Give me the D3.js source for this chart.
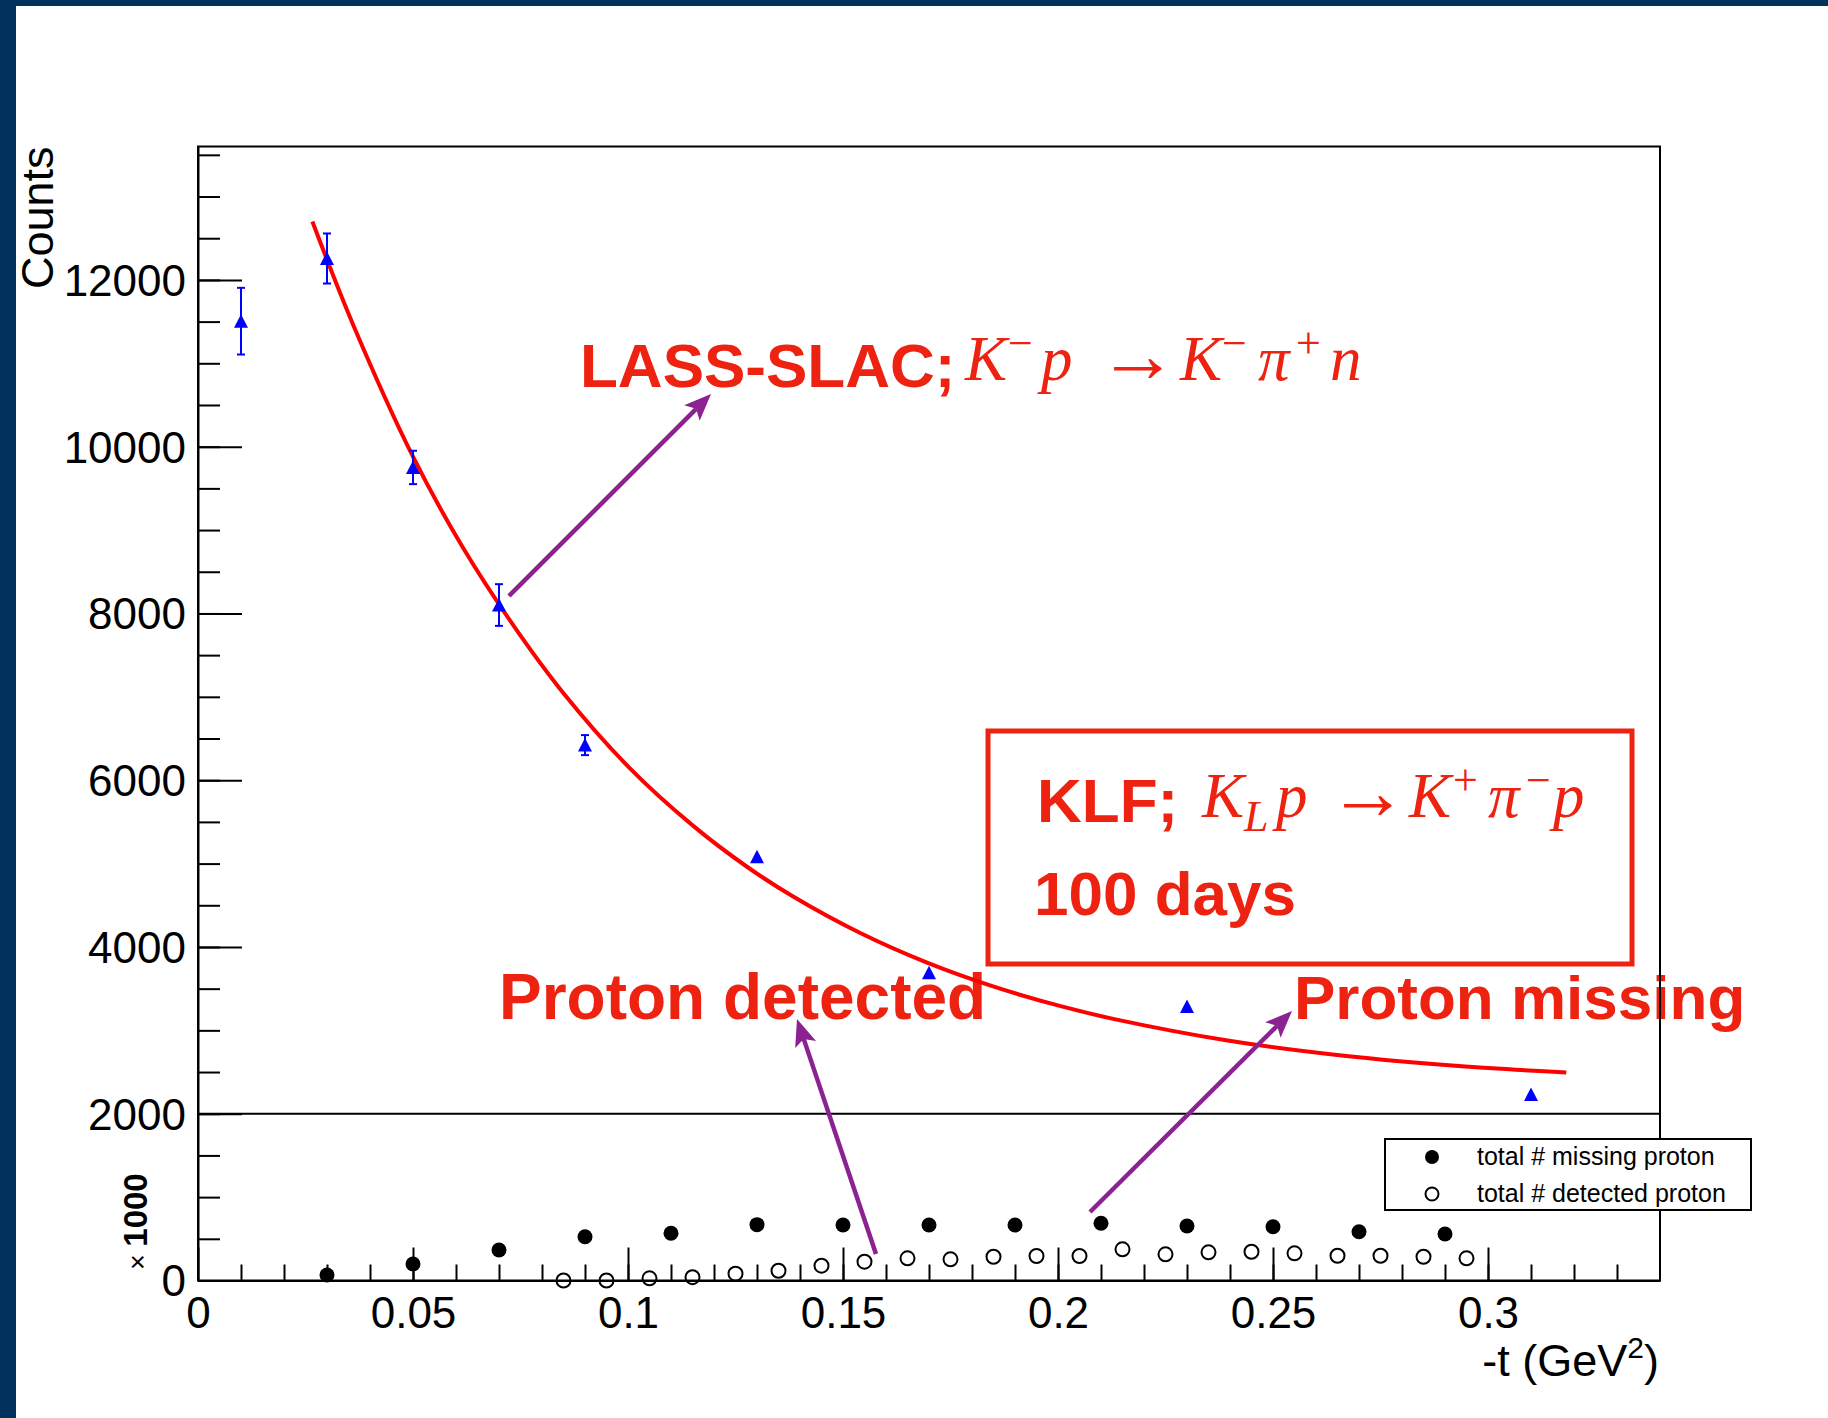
<!DOCTYPE html>
<meta charset="utf-8">

<!-- Load d3.js -->
<script src="https://d3js.org/d3.v7.min.js"></script>

<style>
  body { margin: 0; background: #fff; }
  svg { display: block; }
</style>

<!-- Create a div where the graph will take place -->
<div id="my_dataviz"></div>

<script>

// LASS-SLAC data (blue triangles), -t in GeV^2
var lassT      = [0.01, 0.03, 0.05, 0.07, 0.09, 0.13, 0.17, 0.23, 0.31];
var lassCounts = [11505, 12257, 9751, 8101, 6421, 5082, 3690, 3285, 2230];
var lassErr    = [400, 300, 200, 250, 120, 0, 0, 0, 0];

// red fit curve
var fitT      = [0.0266, 0.0361, 0.05, 0.0616, 0.0733, 0.0849, 0.1004, 0.1151, 0.1275, 0.1384,
                 0.1539, 0.1694, 0.1849, 0.2004, 0.2131, 0.2398, 0.2665, 0.2932, 0.3182];
var fitCounts = [12700, 11460, 9880, 8790, 7860, 7050, 6145, 5455, 4968, 4605,
                 4170, 3815, 3527, 3293, 3135, 2875, 2695, 2572, 2495];

// KLF lower part (x 1000), filled = missing proton, open = detected proton
var missingT      = [0.03, 0.05, 0.07, 0.09, 0.11, 0.13, 0.15, 0.17, 0.19, 0.21, 0.23, 0.25, 0.27, 0.29];
var missingCounts = [66, 198, 366, 525, 566, 670, 665, 665, 665, 686, 653, 645, 585, 557];

var detectedT      = [0.085, 0.095, 0.105, 0.115, 0.125, 0.135, 0.145, 0.155, 0.165, 0.175, 0.185,
                      0.195, 0.205, 0.215, 0.225, 0.235, 0.245, 0.255, 0.265, 0.275, 0.285, 0.295];
var detectedCounts = [0, 0, 26, 40, 82, 117, 178, 226, 266, 254, 285,
                      294, 294, 374, 314, 338, 345, 326, 297, 297, 285, 266];

// axis ticks
var xMajorTicks = [0, 0.05, 0.1, 0.15, 0.2, 0.25, 0.3];
var xTickLabels = ["0", "0.05", "0.1", "0.15", "0.2", "0.25", "0.3"];
var yMajorTicks = [0, 2000, 4000, 6000, 8000, 10000, 12000];
var yTickLabels = ["0", "2000", "4000", "6000", "8000", "10000", "12000"];

var legendLabels = ["total # missing proton", "total # detected proton"];

// dimensions (frame of the plot, in page pixels)
var W = 1828, H = 1418;
var frameL = 198, frameR = 1660, frameT = 146.5, frameB = 1280.5;

var red = "#ee2211", purple = "#8c2192", navy = "#02315e";
var sans = "'Liberation Sans', Arial, Helvetica, sans-serif";
var serif = "'Liberation Serif', 'Times New Roman', serif";

var svg = d3.select("#my_dataviz")
  .append("svg")
    .attr("width", W)
    .attr("height", H);

svg.append("rect").attr("width", W).attr("height", H).attr("fill", "#fff");
// dark slide border
svg.append("rect").attr("x", 0).attr("y", 0).attr("width", 16).attr("height", H).attr("fill", navy);
svg.append("rect").attr("x", 0).attr("y", 0).attr("width", W).attr("height", 6).attr("fill", navy);

var x = d3.scaleLinear().domain([0, 0.34]).range([frameL, frameR]);
var y = d3.scaleLinear().domain([0, 13600]).range([frameB, frameT]);

// ---- annotation texts (under the frame and data) ----
function boldText(str, tx, ty, size) {
  svg.append("text")
    .attr("x", tx).attr("y", ty)
    .attr("font-family", sans)
    .attr("font-weight", "bold")
    .attr("font-size", (size || 62) + "px")
    .attr("fill", red)
    .text(str);
}
boldText("LASS-SLAC;", 580, 387);
boldText("KLF;", 1037, 822);
boldText("100 days", 1034, 915);
boldText("Proton detected", 499, 1019, 64);
boldText("Proton missing", 1294, 1019);

// math pieces: [text, x, baseline shift, size, italic]
function mathText(parts, base) {
  var t = svg.append("text")
    .attr("font-family", serif)
    .attr("fill", red);
  parts.forEach(function(p) {
    t.append("tspan")
      .attr("x", p[1])
      .attr("y", base + p[2])
      .attr("font-size", p[3] + "px")
      .attr("font-style", p[4] ? "italic" : "normal")
      .text(p[0]);
  });
}
mathText([
  ["K", 965, 0, 63, true],
  ["\u2212", 1008, -22, 44, false],
  ["p", 1041, 0, 63, true],
  ["\u2192", 1098, 2, 80, false],
  ["K", 1180, 0, 63, true],
  ["\u2212", 1222, -22, 44, false],
  ["\u03c0", 1258, 0, 63, true],
  ["+", 1296, -22, 44, false],
  ["n", 1330, 0, 63, true]
], 380);

mathText([
  ["K", 1202, 0, 63, true],
  ["L", 1244, 14, 44, true],
  ["p", 1276, 0, 63, true],
  ["\u2192", 1328, 2, 80, false],
  ["K", 1409, 0, 63, true],
  ["+", 1453, -22, 44, false],
  ["\u03c0", 1488, 0, 63, true],
  ["\u2212", 1526, -22, 44, false],
  ["p", 1553, 0, 63, true]
], 817);

// KLF box
svg.append("rect")
  .attr("x", 988).attr("y", 731)
  .attr("width", 644).attr("height", 233)
  .attr("fill", "none")
  .attr("stroke", red)
  .attr("stroke-width", 5);

// ---- axes ----
var xMinor = d3.range(1, 34).map(function(i) { return i / 100; });
var yMinor = d3.range(1, 28).map(function(i) { return i * 500; });

svg.append("g")
  .attr("transform", "translate(0," + frameB + ")")
  .call(d3.axisBottom(x).tickValues(xMinor).tickFormat("").tickSizeInner(-16).tickSizeOuter(0))
  .call(function(g) { g.select(".domain").remove(); });

svg.append("g")
  .attr("transform", "translate(" + frameL + ",0)")
  .call(d3.axisLeft(y).tickValues(yMinor).tickFormat("").tickSizeInner(-22).tickSizeOuter(0))
  .call(function(g) { g.select(".domain").remove(); });

var xAxis = svg.append("g")
  .attr("transform", "translate(0," + frameB + ")")
  .call(d3.axisBottom(x)
    .tickValues(xMajorTicks)
    .tickFormat(function(d, i) { return xTickLabels[i]; })
    .tickSizeInner(-33).tickSizeOuter(0).tickPadding(16));

var yAxis = svg.append("g")
  .attr("transform", "translate(" + frameL + ",0)")
  .call(d3.axisLeft(y)
    .tickValues(yMajorTicks)
    .tickFormat(function(d, i) { return yTickLabels[i]; })
    .tickSizeInner(-44).tickSizeOuter(0).tickPadding(12));

svg.selectAll(".tick line").attr("stroke", "#000").attr("stroke-width", 2);
svg.selectAll(".domain").attr("stroke", "#000").attr("stroke-width", 2);
svg.selectAll(".tick text")
  .attr("font-family", sans)
  .attr("font-size", "44px")
  .attr("fill", "#000");
yAxis.selectAll(".tick text").attr("dy", "0.35em");

// frame
svg.append("rect")
  .attr("x", frameL).attr("y", frameT)
  .attr("width", frameR - frameL).attr("height", frameB - frameT)
  .attr("fill", "none")
  .attr("stroke", "#000")
  .attr("stroke-width", 2);

// separator line at 2000
svg.append("line")
  .attr("x1", frameL).attr("x2", frameR)
  .attr("y1", y(2000)).attr("y2", y(2000))
  .attr("stroke", "#000")
  .attr("stroke-width", 2);

// axis titles
svg.append("text")
  .attr("transform", "translate(53," + frameT + ") rotate(-90)")
  .attr("text-anchor", "end")
  .attr("font-family", sans)
  .attr("font-size", "45px")
  .text("Counts");

var xt = svg.append("text")
  .attr("x", 1659).attr("y", 1376)
  .attr("text-anchor", "end")
  .attr("font-family", sans)
  .attr("font-size", "45px");
xt.append("tspan").text("-t (GeV");
xt.append("tspan").attr("dy", -18).attr("font-size", "30px").text("2");
xt.append("tspan").attr("dy", 18).text(")");

var scaleLabel = svg.append("text")
  .attr("transform", "translate(147,1270) rotate(-90)")
  .attr("font-family", sans);
scaleLabel.append("tspan").attr("font-size", "27px").text("\u00d7 ");
scaleLabel.append("tspan").attr("font-size", "33px").attr("font-weight", "bold").text("1000");

// ---- fit curve ----
var fitData = fitT.map(function(t, i) { return {t: t, v: fitCounts[i]}; });
svg.append("path")
  .datum(fitData)
  .attr("fill", "none")
  .attr("stroke", "#ff0000")
  .attr("stroke-width", 4)
  .attr("d", d3.line()
    .x(function(d) { return x(d.t); })
    .y(function(d) { return y(d.v); })
    .curve(d3.curveCatmullRom.alpha(0.5)));

// ---- LASS points with error bars ----
var lass = lassT.map(function(t, i) { return {t: t, v: lassCounts[i], e: lassErr[i]}; });
var errs = svg.selectAll("g.err")
  .data(lass.filter(function(d) { return d.e > 0; }))
  .enter().append("g")
    .attr("stroke", "#0000ff")
    .attr("stroke-width", 2);
errs.append("line")
  .attr("x1", function(d) { return x(d.t); })
  .attr("x2", function(d) { return x(d.t); })
  .attr("y1", function(d) { return y(d.v - d.e); })
  .attr("y2", function(d) { return y(d.v + d.e); });
errs.append("line")
  .attr("x1", function(d) { return x(d.t) - 4; })
  .attr("x2", function(d) { return x(d.t) + 4; })
  .attr("y1", function(d) { return y(d.v - d.e); })
  .attr("y2", function(d) { return y(d.v - d.e); });
errs.append("line")
  .attr("x1", function(d) { return x(d.t) - 4; })
  .attr("x2", function(d) { return x(d.t) + 4; })
  .attr("y1", function(d) { return y(d.v + d.e); })
  .attr("y2", function(d) { return y(d.v + d.e); });

svg.selectAll("path.tri")
  .data(lass)
  .enter().append("path")
    .attr("class", "tri")
    .attr("d", "M0,-7L7,6.5L-7,6.5Z")
    .attr("transform", function(d) { return "translate(" + x(d.t) + "," + y(d.v) + ")"; })
    .attr("fill", "#0000ff");

// ---- missing / detected proton ----
svg.selectAll("circle.missing")
  .data(missingT)
  .enter().append("circle")
    .attr("class", "missing")
    .attr("cx", function(d) { return x(d); })
    .attr("cy", function(d, i) { return y(missingCounts[i]); })
    .attr("r", 7.5)
    .attr("fill", "#000");

svg.selectAll("circle.detected")
  .data(detectedT)
  .enter().append("circle")
    .attr("class", "detected")
    .attr("cx", function(d) { return x(d); })
    .attr("cy", function(d, i) { return y(detectedCounts[i]); })
    .attr("r", 7)
    .attr("fill", "none")
    .attr("stroke", "#000")
    .attr("stroke-width", 2);

// ---- arrows ----
function arrow(x1, y1, x2, y2) {
  var dx = x2 - x1, dy = y2 - y1, len = Math.sqrt(dx * dx + dy * dy);
  var ux = dx / len, uy = dy / len, px = -uy, py = ux;
  var hl = 27, hw = 11, notch = 6;
  var bx = x2 - ux * hl, by = y2 - uy * hl;
  var nx = x2 - ux * (hl - notch), ny = y2 - uy * (hl - notch);
  svg.append("line")
    .attr("x1", x1).attr("y1", y1).attr("x2", nx).attr("y2", ny)
    .attr("stroke", purple).attr("stroke-width", 4.5);
  svg.append("path")
    .attr("d", "M" + x2 + "," + y2 +
               "L" + (bx + px * hw) + "," + (by + py * hw) +
               "L" + nx + "," + ny +
               "L" + (bx - px * hw) + "," + (by - py * hw) + "Z")
    .attr("fill", purple);
}
arrow(509, 596, 711, 394);
arrow(876, 1254, 797, 1019);
arrow(1090, 1212, 1292, 1011);

// ---- legend ----
var lg = svg.append("g");
lg.append("rect")
  .attr("x", 1385).attr("y", 1139)
  .attr("width", 366).attr("height", 71)
  .attr("fill", "#fff")
  .attr("stroke", "#000")
  .attr("stroke-width", 2);
lg.append("circle").attr("cx", 1432).attr("cy", 1157).attr("r", 7).attr("fill", "#000");
lg.append("circle").attr("cx", 1432).attr("cy", 1194).attr("r", 6.5)
  .attr("fill", "none").attr("stroke", "#000").attr("stroke-width", 2);
lg.selectAll("text")
  .data(legendLabels)
  .enter().append("text")
    .attr("x", 1477)
    .attr("y", function(d, i) { return 1165 + i * 37; })
    .attr("font-family", sans)
    .attr("font-size", "25px")
    .attr("fill", "#000")
    .text(function(d) { return d; });

</script>
